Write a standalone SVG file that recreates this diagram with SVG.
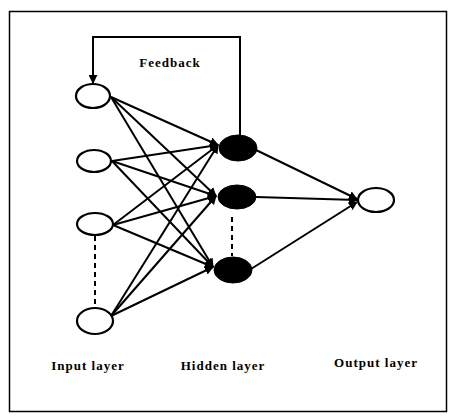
<svg xmlns="http://www.w3.org/2000/svg" width="450" height="416" viewBox="0 0 450 416">
<defs>
<marker id="ah" viewBox="0 0 10 10" refX="9" refY="5" markerWidth="4.5" markerHeight="4.5" orient="auto" markerUnits="strokeWidth">
<path d="M0,0 L10,5 L0,10 z" fill="#000"/>
</marker>
</defs>
<style>
.e{stroke:#000;stroke-width:2;fill:none;marker-end:url(#ah)}
.d{stroke:#000;stroke-width:2;stroke-dasharray:5,4;fill:none}
.in{fill:#fff;stroke:#000;stroke-width:2.2}
.hd{fill:#000;stroke:#000;stroke-width:1}
.t{font-family:"Liberation Serif","Times New Roman",serif;font-weight:bold;font-size:13px;letter-spacing:1px;fill:#000;text-anchor:middle}
</style>
<rect x="0" y="0" width="450" height="416" fill="#fff"/>
<rect x="9.5" y="11.5" width="437" height="400" fill="none" stroke="#000" stroke-width="1.5"/>
<g id="connectors">
<path class="e" d="M240,135 L240,37 L93,37 L93,83"/>
<line class="e" x1="111" y1="97" x2="218" y2="145"/>
<line class="e" x1="111" y1="97" x2="216" y2="196"/>
<line class="e" x1="111" y1="97" x2="213" y2="267"/>
<line class="e" x1="112" y1="161" x2="218" y2="145"/>
<line class="e" x1="112" y1="161" x2="216" y2="196"/>
<line class="e" x1="112" y1="161" x2="213" y2="267"/>
<line class="e" x1="113" y1="225" x2="218" y2="145"/>
<line class="e" x1="113" y1="225" x2="216" y2="196"/>
<line class="e" x1="113" y1="225" x2="213" y2="267"/>
<line class="e" x1="111" y1="316" x2="218" y2="145"/>
<line class="e" x1="111" y1="316" x2="216" y2="196"/>
<line class="e" x1="111" y1="316" x2="213" y2="267"/>
<line class="e" x1="256" y1="150" x2="357" y2="199"/>
<line class="e" x1="256" y1="197" x2="357" y2="200"/>
<line class="e" x1="251" y1="269" x2="357" y2="202"/>
<line class="d" x1="95" y1="236" x2="95" y2="307"/>
<line class="d" x1="232" y1="217" x2="232" y2="256"/>
</g>
<g id="input1"><ellipse class="in" cx="93" cy="96" rx="17" ry="12"/></g>
<g id="input2"><ellipse class="in" cx="94" cy="161" rx="17" ry="11"/></g>
<g id="input3"><ellipse class="in" cx="95" cy="224" rx="18" ry="11"/></g>
<g id="input4"><ellipse class="in" cx="95" cy="321" rx="18" ry="13"/></g>
<g id="hidden1"><ellipse class="hd" cx="238" cy="148" rx="19" ry="13"/></g>
<g id="hidden2"><ellipse class="hd" cx="237" cy="197" rx="19" ry="12"/></g>
<g id="hidden3"><ellipse class="hd" cx="233" cy="270" rx="19" ry="13"/></g>
<g id="output"><ellipse class="in" cx="376" cy="200" rx="18" ry="12"/></g>
<text class="t" x="170" y="67">Feedback</text>
<text class="t" x="88" y="370">Input layer</text>
<text class="t" x="223" y="370">Hidden layer</text>
<text class="t" x="376" y="367">Output layer</text>
</svg>
